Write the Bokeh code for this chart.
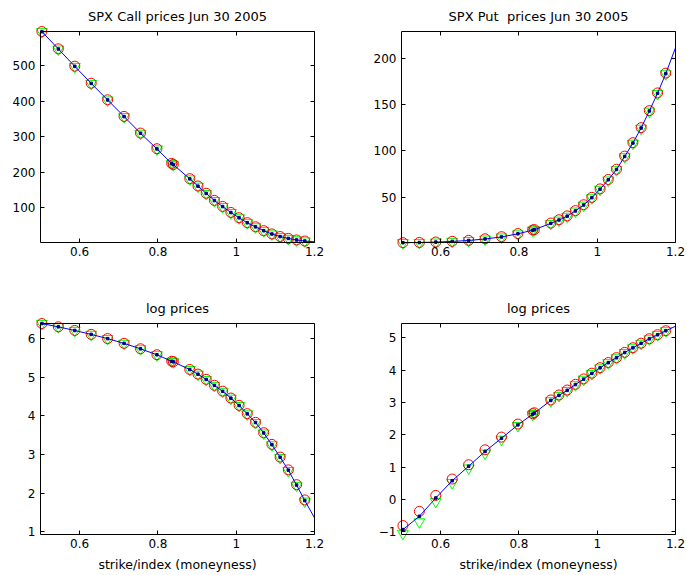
import numpy as np
from bokeh.plotting import figure
from bokeh.models import Range1d, LinearAxis, FixedTicker
from bokeh.layouts import gridplot
from bokeh.embed import file_html
from bokeh.resources import INLINE

# strike / index (moneyness)
moneyness = [0.5036, 0.5456, 0.5876, 0.6295, 0.6715, 0.7135, 0.7555, 0.7974, 0.8352, 0.8394,
             0.8814, 0.9023, 0.9233, 0.9443, 0.9653, 0.9863, 1.0073, 1.0282, 1.0493, 1.0702,
             1.0912, 1.1122, 1.1332, 1.1542, 1.1752]

# SPX call prices (red circles, green triangles, blue model)
call_red = [595.5, 546.8, 498.0, 450.0, 403.5, 356.7, 309.8, 265.8, 224.5, 221.5,
            181.5, 160.9, 140.5, 120.5, 103.5, 86.6, 71.7, 57.8, 46.2, 35.3,
            26.1, 18.8, 13.5, 9.2, 6.2]
call_green = [594.5, 545.8, 497.0, 449.0, 402.5, 355.7, 308.8, 264.8, 223.5, 220.5,
              180.5, 160.0, 139.6, 119.7, 102.7, 85.9, 71.1, 57.2, 45.7, 34.9,
              25.7, 18.5, 13.2, 9.0, 6.0]
call_model = [595.0, 546.3, 497.5, 449.5, 403.0, 356.2, 309.3, 265.3, 224.0, 221.0,
              181.0, 160.5, 140.1, 120.1, 103.1, 86.3, 71.4, 57.5, 46.0, 35.1,
              25.9, 18.7, 13.4, 9.1, 6.1]

# SPX put prices
put_red = [0.447, 0.694, 1.137, 1.885, 2.93, 4.65, 6.89, 10.3, 14.2, 14.6,
           21.7, 25.3, 29.5, 35.2, 41.6, 49.6, 58.8, 69.0, 80.2, 94.4,
           109.0, 125.3, 143.8, 163.0, 184.5]
put_green = [0.35, 0.50, 0.94, 1.68, 2.64, 4.18, 6.42, 9.8, 13.8, 14.2,
             21.1, 24.7, 28.9, 34.6, 41.0, 49.0, 58.2, 68.3, 79.5, 93.6,
             108.2, 124.5, 143.0, 162.2, 183.6]
put_model = [0.395, 0.595, 1.05, 1.79, 2.80, 4.42, 6.65, 10.05, 14.0, 14.45,
             21.4, 25.0, 29.2, 34.9, 41.3, 49.3, 58.5, 68.7, 79.9, 94.0,
             108.6, 124.9, 143.4, 162.6, 184.0]

# model curve continues to the right edge
curve_end_m = [1.20]
call_curve_end = [3.9]
put_curve_end = [212.0]

x_lim = (0.5, 1.2)
x_ticks = [0.6, 0.8, 1.0, 1.2]
x_tick_labels = ["0.6", "0.8", "1", "1.2"]
call_ticks = [100, 200, 300, 400, 500]
put_ticks = [50, 100, 150, 200]
logcall_ticks = [1, 2, 3, 4, 5, 6]
logput_ticks = [-1, 0, 1, 2, 3, 4, 5]

FONT = "DejaVu Sans"
TICK_FS = "12px"
TITLE_FS = "13px"
LABEL_FS = "12.5px"

BOX_W = 274   # axes box size in px
BOX_H = 211
PAD = 7       # extra frame so that markers at the box edge are not cut


def box_axis(ticks, loc, bounds):
    return LinearAxis(ticker=FixedTicker(ticks=ticks), major_label_text_color=None,
                      major_tick_in=4, major_tick_out=0, minor_tick_in=0, minor_tick_out=0,
                      major_label_standoff=0, axis_line_color="black",
                      major_tick_line_color="black",
                      fixed_location=loc, bounds=bounds)


def make_fig(title, w, h, box_left, box_top, ylim, yticks, xlabel=None):
    dx = (x_lim[1] - x_lim[0]) / BOX_W
    dy = (ylim[1] - ylim[0]) / BOX_H
    fl = box_left - PAD
    ft = box_top - PAD
    fw = BOX_W + 2 * PAD
    fh = BOX_H + 2 * PAD
    p = figure(width=w, height=h,
               x_range=Range1d(x_lim[0] - PAD * dx, x_lim[1] + PAD * dx),
               y_range=Range1d(ylim[0] - PAD * dy, ylim[1] + PAD * dy),
               output_backend="svg", toolbar_location=None,
               min_border_left=fl, min_border_right=w - fl - fw,
               min_border_top=ft, min_border_bottom=h - ft - fh)
    p.title.text = title
    p.title.text_font = FONT
    p.title.text_font_size = TITLE_FS
    p.title.text_font_style = "normal"
    p.title.align = "center"
    p.title.text_color = "black"
    p.title.standoff = 2
    p.xgrid.grid_line_color = None
    p.ygrid.grid_line_color = None
    p.outline_line_color = None
    p.background_fill_color = "white"
    p.border_fill_color = "white"

    # side axes: labels only (the box and its ticks are drawn by fixed axes)
    xa = p.xaxis[0]
    xa.ticker = FixedTicker(ticks=x_ticks)
    xa.major_label_overrides = {t: l for t, l in zip(x_ticks, x_tick_labels)}
    ya = p.yaxis[0]
    ya.ticker = FixedTicker(ticks=yticks)
    ya.major_label_overrides = {t: (("\u2212" + str(-t)) if t < 0 else str(t)) for t in yticks}
    for ax in (xa, ya):
        ax.major_label_text_font = FONT
        ax.major_label_text_font_size = TICK_FS
        ax.major_label_text_color = "black"
        ax.major_tick_line_color = None
        ax.minor_tick_line_color = None
        ax.major_tick_in = 0
        ax.major_tick_out = 0
        ax.minor_tick_in = 0
        ax.minor_tick_out = 0
        ax.axis_line_color = None
    xa.major_label_standoff = 4 - PAD
    ya.major_label_standoff = 5 - PAD
    if xlabel:
        xa.axis_label = xlabel
        xa.axis_label_text_font = FONT
        xa.axis_label_text_font_size = LABEL_FS
        xa.axis_label_text_font_style = "normal"
        xa.axis_label_text_color = "black"
        xa.axis_label_standoff = 6

    p.add_layout(box_axis(yticks, x_lim[0], ylim), "left")
    p.add_layout(box_axis(yticks, x_lim[1], ylim), "right")
    p.add_layout(box_axis(x_ticks, ylim[0], x_lim), "below")
    p.add_layout(box_axis(x_ticks, ylim[1], x_lim), "above")
    return p


def draw(p, red, green, model, curve_end):
    p.scatter(moneyness, green, marker="inverted_triangle", size=11, fill_color=None,
              line_color="#00FF00", line_width=1)
    p.scatter(moneyness, red, marker="circle", size=10, fill_color=None,
              line_color="#FF0000", line_width=1)
    p.line(list(moneyness) + curve_end_m, list(model) + list(curve_end),
           line_color="#0000FF", line_width=1)
    p.scatter(moneyness, model, marker="square", size=2.5, fill_color="#000080",
              line_color="#000080")


p1 = make_fig("SPX Call prices Jun 30 2005", 343, 290, 40, 31, (2.0, 595.5), call_ticks)
draw(p1, call_red, call_green, call_model, call_curve_end)

p2 = make_fig("SPX Put\u00a0 prices Jun 30 2005", 344, 290, 58, 31, (0.6, 229.7), put_ticks)
draw(p2, put_red, put_green, put_model, put_curve_end)

p3 = make_fig("log prices", 343, 285, 40, 33, (0.93, 6.39), logcall_ticks,
              xlabel="strike/index (moneyness)")
draw(p3, np.log(call_red), np.log(call_green), np.log(call_model), np.log(call_curve_end))

p4 = make_fig("log prices", 344, 285, 58, 33, (-1.08, 5.44), logput_ticks,
              xlabel="strike/index (moneyness)")
draw(p4, np.log(put_red), np.log(put_green), np.log(put_model), np.log(put_curve_end))

grid = gridplot([[p1, p2], [p3, p4]], toolbar_location=None)

open("out.html", "w").write(file_html(grid, INLINE))
